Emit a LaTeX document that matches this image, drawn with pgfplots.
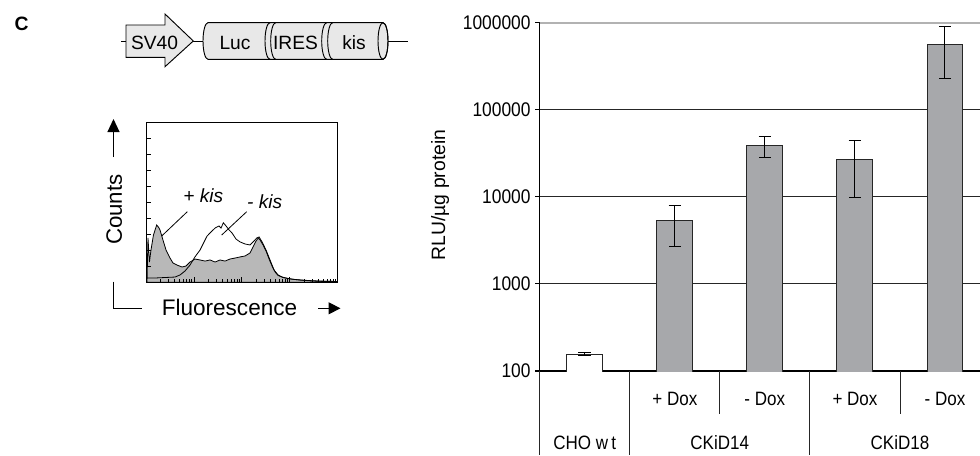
\documentclass[border=0pt]{standalone}
\usepackage{pgfplots}
\pgfplotsset{compat=1.18}
\usetikzlibrary{arrows.meta}
\usepackage{fontspec}
\setmainfont{Liberation Sans}
\newfontfamily\narrowsf[FakeStretch=0.88]{Liberation Sans}
\definecolor{barfill}{HTML}{A7A8AB}
\definecolor{histfill}{HTML}{B8B8B8}
\definecolor{plasfill}{HTML}{E8E8E8}
\newcommand\fs[1]{\fontsize{#1}{#1}\selectfont}

\begin{document}
\begin{tikzpicture}
\useasboundingbox (0,0) rectangle (735pt,341.25pt);
\clip (0,0) rectangle (735pt,341.25pt);

% ---------------- bar chart ----------------
\begin{axis}[
  at={(404.625pt,63pt)}, anchor=south west,
  scale only axis, width=330.375pt, height=261.225pt,
  ymode=log, ymin=100, ymax=1000000,
  xmin=-0.5, xmax=4.39,
  axis lines*=left,
  axis line style={black, line width=0.8pt},
  xtick=\empty,
  ytick={100,1000,10000,100000,1000000},
  yticklabels={100,1000,10000,100000,1000000},
  yminorticks=false,
  tick align=outside,
  major tick length=3.2pt,
  ytick style={black, line width=0.8pt},
  yticklabel style={font=\narrowsf\fs{14.8}},
  ymajorgrids,
  grid style={black!85, line width=0.8pt},
  error bars/error bar style={black, line width=0.8pt},
  error bars/error mark options={rotate=90, mark size=4.6pt, line width=0.8pt, black},
]
\addplot[ybar, bar width=0.396, bar shift=0pt, fill=white, draw=black!85, line width=0.8pt,
  error bars/.cd, y dir=both, y explicit]
  coordinates {(0,155) += (0,7) -= (0,6)};
\addplot[ybar, bar width=0.396, bar shift=0pt, fill=barfill, draw=black!85, line width=0.8pt,
  error bars/.cd, y dir=both, y explicit]
  coordinates {
  (1,5320) += (0,2730) -= (0,2650)
  (2,39350) += (0,10550) -= (0,11250)
  (3,26700) += (0,18200) -= (0,16930)
  (4,568000) += (0,346000) -= (0,341000)
  };
\end{axis}
\draw[gray!60, line width=1.2pt] (404.625pt,324.225pt) -- (735pt,324.225pt);

% ---------------- histogram ----------------
\begin{axis}[
  at={(109.5pt,129.525pt)}, anchor=south west, scale only axis,
  width=143.775pt, height=119.7pt,
  xmode=log, xmin=1, xmax=10000, ymin=0, ymax=100,
  xticklabels={}, yticklabels={},
  xtick={1,10,100,1000,10000},
  ytick={0,10,...,100},
  tick align=inside, xtick pos=left, ytick pos=left,
  major tick length=4pt, minor tick length=2.5pt,
  axis line style={black, line width=0.75pt},
  tick style={black, line width=0.6pt},
  axis on top,
]
\addplot[fill=histfill, draw=black, line width=0.6pt] coordinates {
(1,0) (1.05,0) (1.10,27.8) (1.18,12.7) (1.27,20.2) (1.43,29.6) (1.67,35.9) (1.82,34.6)
(1.96,32.8) (2.26,26.5) (2.62,20.2) (3.17,15.2) (3.66,12.1) (4.44,10.8) (5.64,9.6)
(6.84,10.2) (8.29,12.7) (10.5,14.6) (13.4,14.0) (17.1,13.3) (21.7,14.0) (27.6,12.7)
(35.1,14.0) (44.6,13.3) (56.7,14.6) (72.1,15.2) (91.7,15.9) (117,16.5) (148,18.4)
(171,22.1) (198,25.9) (221,27.8) (240,26.5) (277,23.4) (320,19.6) (370,14.6) (427,10.2)
(493,6.5) (570,4.3) (691,3.3) (922,2.4) (1291,1.75) (2085,1.25) (3900,0.8) (10000,0.5)
} \closedcycle;
\addplot[black, line width=0.6pt] coordinates {
(1.05,2.7) (1.54,2.7) (2.49,3.0) (4.03,3.3) (5.13,4.6) (6.52,7.1) (8.29,10.8) (10.5,15.9)
(13.4,20.2) (16.3,25.3) (18.8,29.0) (22.7,31.5) (27.6,34.0) (33.4,35.3) (36.8,34.0)
(41.1,37.3) (46.8,35.3) (54.1,32.8) (62.4,30.9) (75.6,27.1) (91.7,25.3) (117,24.0)
(148,23.4) (180,25.9) (205,27.8) (229,28.4) (264,25.3) (320,20.2) (388,13.9) (470,7.7)
(570,4.6) (724,3.0) (1015,2.1) (1640,1.4) (2924,0.8) (10000,0.5)
};
\end{axis}

% ---------------- annotations in image pixel coordinates ----------------
\begin{scope}[x=0.75pt, y=-0.75pt, shift={(0pt,341.25pt)}]
% panel letter
\node[anchor=base, font=\bfseries\fs{14.5}] at (21.7,30) {C};
% plasmid
\draw[line width=0.7pt] (121,41) -- (126,41);
\draw[line width=0.7pt] (193.3,41) -- (203.3,41);
\draw[line width=0.7pt] (383,41) -- (408,41);
\filldraw[fill=plasfill, line width=0.7pt] (126,25) -- (165,25) -- (165,14) -- (193.3,41)
  -- (165,66.7) -- (165,57.3) -- (126,57.3) -- cycle;
\node[anchor=base, font=\fs{14.4}] at (154.5,49) {SV40};
\filldraw[fill=plasfill, line width=0.7pt] (208,22.7) -- (383,22.7)
  arc[start angle=-90, end angle=90, x radius=5, y radius=18.3] -- (208,59.3)
  arc[start angle=90, end angle=270, x radius=5, y radius=18.3] -- cycle;
\draw[line width=0.7pt] (383,41) ellipse [x radius=5, y radius=18.3];
\foreach \cx in {270,275.7,326.7,332.7}
  \draw[line width=0.7pt] (\cx,22.7) arc[start angle=-90, end angle=-270, x radius=5, y radius=18.3];
\node[anchor=base, font=\fs{14.4}] at (235,49) {Luc};
\node[anchor=base, font=\fs{14.4}] at (295.5,49) {IRES};
\node[anchor=base, font=\fs{14.4}] at (354,49) {kis};
% histogram decorations
\draw[line width=0.8pt, -{Triangle[width=9pt,length=9.75pt]}] (113.5,157) -- (113.5,119);
\draw[line width=0.8pt] (113.5,281.7) -- (113.5,308.3) -- (141.7,308.3);
\draw[line width=0.8pt, -{Triangle[width=9pt,length=9pt]}] (318.3,308.3) -- (340.5,308.3);
\node[rotate=90, font=\fs{16.7}] at (114.2,209.7) {Counts};
\node[anchor=base, font=\fs{16.9}] at (229.5,315.7) {Fluorescence};
\node[anchor=base, font=\itshape\fs{14.3}] at (203.3,202.7) {+ kis};
\draw[line width=0.6pt] (187.3,211.7) -- (161.7,236);
\node[anchor=base, font=\itshape\fs{14.3}] at (264.7,208.3) {- kis};
\draw[line width=0.6pt] (246.7,211.7) -- (221.7,235);
% bar chart y label
\node[rotate=90, anchor=base, font=\fs{14.5}] at (445,195) {RLU/µg protein};
% table below bar chart
\draw[black!85, line width=0.7pt] (539.5,371) -- (539.5,455);
\draw[black!85, line width=0.7pt] (629.7,371) -- (629.7,455);
\draw[black!85, line width=0.7pt] (719.7,371) -- (719.7,414.3);
\draw[black!85, line width=0.7pt] (809.8,371) -- (809.8,455);
\draw[black!85, line width=0.7pt] (900,371) -- (900,414.3);
\foreach \xx/\tt in {674.9/{+ Dox},764.8/{- Dox},855/{+ Dox},945/{- Dox}}
  \node[anchor=base, font=\narrowsf\fs{14.5}] at (\xx,405) {\tt};
\node[anchor=base, font=\narrowsf\fs{14.5}] at (584.7,449) {CHO w\,t};
\node[anchor=base, font=\narrowsf\fs{14.5}] at (719.7,449) {CKiD14};
\node[anchor=base, font=\narrowsf\fs{14.5}] at (900,449) {CKiD18};
\end{scope}
\end{tikzpicture}
\end{document}
